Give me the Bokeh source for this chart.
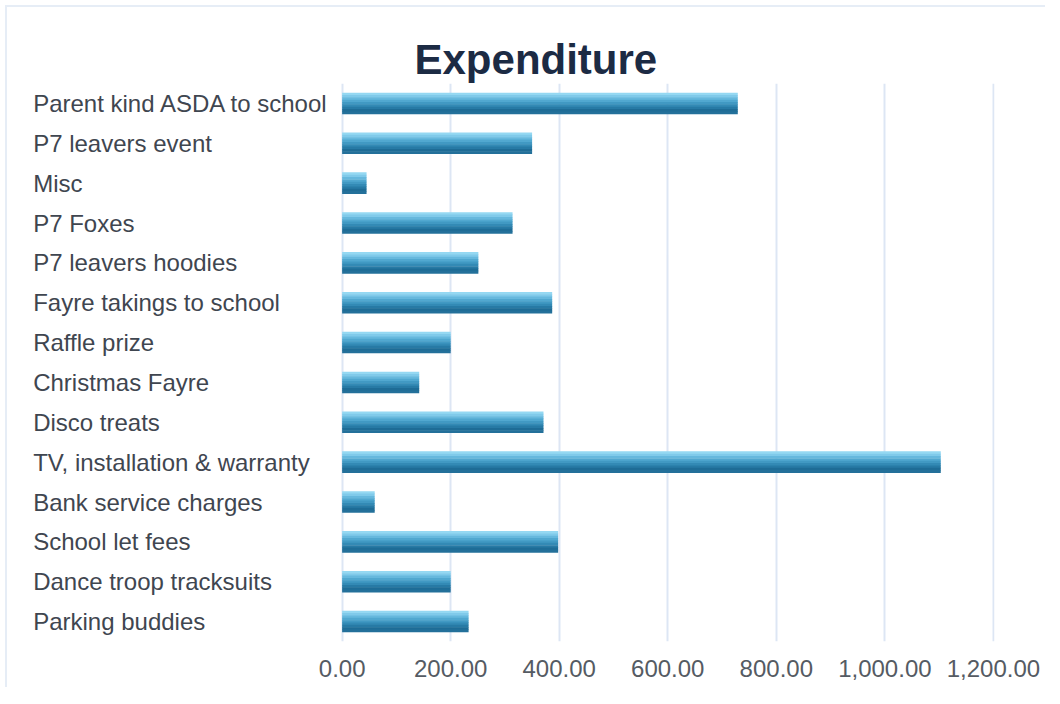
from bokeh.plotting import figure
from bokeh.models import ColumnDataSource, FactorRange, NumeralTickFormatter, FixedTicker, LinearAxis
from bokeh.transform import dodge
from bokeh.core.properties import value
from bokeh.embed import file_html
from bokeh.resources import INLINE

categories = [
    "Parent kind ASDA to school",
    "P7 leavers event",
    "Misc",
    "P7 Foxes",
    "P7 leavers hoodies",
    "Fayre takings to school",
    "Raffle prize",
    "Christmas Fayre",
    "Disco treats",
    "TV, installation & warranty",
    "Bank service charges",
    "School let fees",
    "Dance troop tracksuits",
    "Parking buddies",
]
amounts = [729, 350, 45, 314, 251, 387, 200, 142, 371, 1103, 60, 398, 200, 233]
x_ticks = [0, 200, 400, 600, 800, 1000, 1200]
title_text = "Expenditure"

source = ColumnDataSource(data=dict(cat=categories, amount=amounts))

p = figure(
    width=1040, height=682,
    y_range=FactorRange(factors=list(reversed(categories)), range_padding=0),
    x_range=(-600, 1202),
    output_backend="svg", toolbar_location=None,
    min_border_left=9, min_border_right=53, min_border_top=76, min_border_bottom=48,
)
p.styles = {"border-top": "2px solid #e6edf6", "border-left": "2px solid #e6edf6",
            "margin-left": "5px", "margin-top": "5px"}

# gradient bars simulated by stacked strips
bar_h = 0.53
strip_colors = ["#95d8f2", "#80caea", "#66b8dd", "#51a8d0", "#4199c3", "#338ab5", "#277aa5", "#1e6c96", "#23709a"]
n = len(strip_colors)
sh = bar_h / n
for i, c in enumerate(strip_colors):
    off = bar_h / 2 - (i + 0.5) * sh
    p.hbar(y=dodge("cat", off, range=p.y_range), right="amount", left=0,
           height=sh * 1.2, source=source, fill_color=c, line_color=None)

# category labels, left aligned in the left margin of the frame
p.text(x=0, y="cat", text="cat", source=source, x_offset=-309,
       text_align="left", text_baseline="middle",
       text_font=value("Liberation Sans"), text_font_size="24px", text_color="#3f4650")

# invisible spacer axis between the title and the plot area
spacer = LinearAxis(ticker=FixedTicker(ticks=[]), axis_line_color=None,
                    major_tick_line_color=None, minor_tick_line_color=None,
                    major_tick_in=0, major_tick_out=26, minor_tick_in=0, minor_tick_out=0,
                    major_label_standoff=0)
p.add_layout(spacer, "above")

p.title.text = title_text
p.title.align = "left"
p.title.offset = 398
p.title.standoff = 2
p.title.text_font = "Liberation Sans"
p.title.text_font_size = "42px"
p.title.text_font_style = "bold"
p.title.text_color = "#1c2b44"

p.outline_line_color = None
p.ygrid.grid_line_color = None
p.xgrid.grid_line_color = "#dde6f4"
p.xgrid.grid_line_width = 2
p.yaxis.visible = False

ax = p.below[0]
ax.ticker = FixedTicker(ticks=x_ticks)
ax.formatter = NumeralTickFormatter(format="0,0.00")
ax.axis_line_color = None
ax.major_tick_line_color = None
ax.minor_tick_line_color = None
ax.major_label_text_font = "Liberation Sans"
ax.major_label_text_font_size = "24px"
ax.major_label_text_color = "#555b63"
ax.major_label_standoff = 12

open("out.html", "w").write(file_html(p, INLINE))
